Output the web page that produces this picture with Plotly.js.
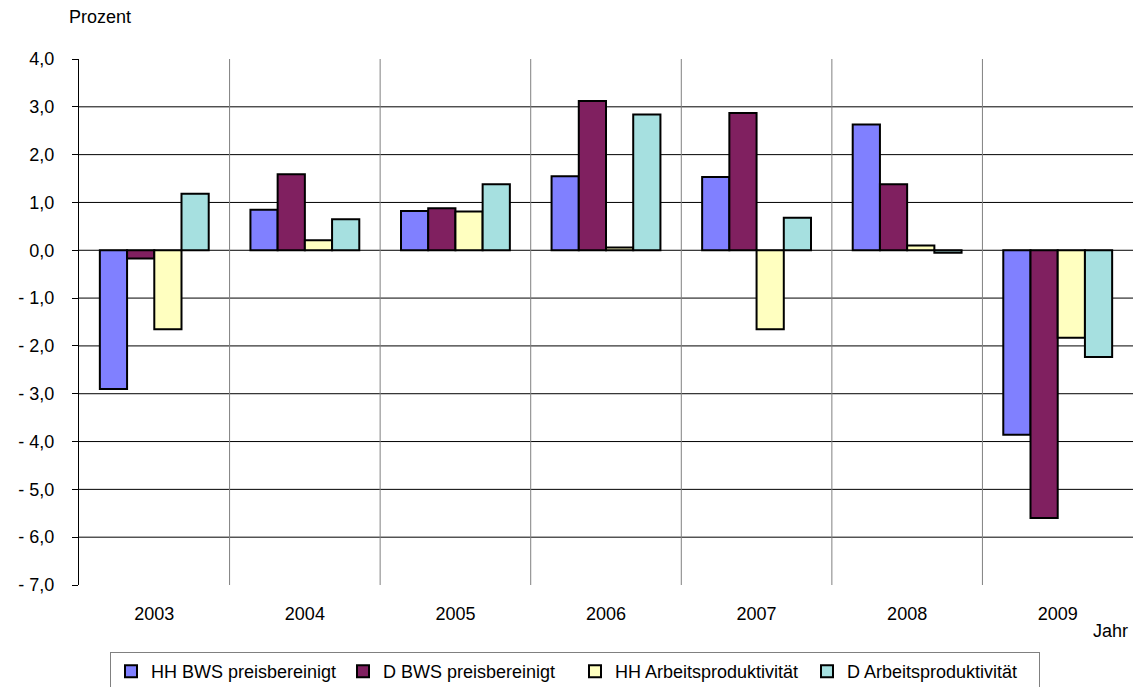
<!DOCTYPE html>
<html>
<head>
<meta charset="utf-8">
<script src="https://cdn.plot.ly/plotly-3.0.1.min.js"></script>
<style>
html,body{margin:0;padding:0;background:#fff;}
#chart{width:1133px;height:687px;}
</style>
</head>
<body>
<div id="chart"></div>
<script>
// Data
const years = ["2003", "2004", "2005", "2006", "2007", "2008", "2009"];
const hhBws = [-2.90, 0.85, 0.82, 1.55, 1.53, 2.63, -3.86];
const dBws = [-0.17, 1.59, 0.88, 3.12, 2.87, 1.38, -5.60];
const hhArb = [-1.65, 0.21, 0.81, 0.06, -1.65, 0.10, -1.83];
const dArb = [1.18, 0.65, 1.38, 2.84, 0.68, -0.05, -2.23];

const seriesNames = ["HH BWS preisbereinigt", "D BWS preisbereinigt", "HH Arbeitsproduktivität", "D Arbeitsproduktivität"];
const yTickVals = [4, 3, 2, 1, 0, -1, -2, -3, -4, -5, -6, -7];
const yTickText = ["4,0", "3,0", "2,0", "1,0", "0,0", "- 1,0", "- 2,0", "- 3,0", "- 4,0", "- 5,0", "- 6,0", "- 7,0"];
const yGridVals = [3, 2, 1, -1, -2, -3, -4, -5, -6];
const yRange = [-7, 4];

const colors = ["#8080FF", "#802060", "#FFFFC0", "#A6E0E0"];
const seriesValues = [hhBws, dBws, hhArb, dArb];

const FONT = "Liberation Sans, Arial, sans-serif";

const traces = seriesValues.map((vals, i) => ({
  type: "bar",
  x: years,
  y: vals,
  name: seriesNames[i],
  marker: {color: colors[i], line: {color: "#000000", width: 2}},
  hoverinfo: "skip"
}));

const shapes = [];
// horizontal gridlines
yGridVals.forEach(v => shapes.push({
  type: "line", layer: "below", xref: "paper", yref: "y",
  x0: 0, x1: 1, y0: v, y1: v,
  line: {color: "#000000", width: 1}
}));
// category separators
for (let i = 0; i < years.length - 1; i++) {
  shapes.push({
    type: "line", layer: "below", xref: "x", yref: "y",
    x0: i + 0.5, x1: i + 0.5, y0: yRange[0], y1: yRange[1],
    line: {color: "#808080", width: 1}
  });
}
// zero line (category axis)
shapes.push({
  type: "line", layer: "below", xref: "paper", yref: "y",
  x0: 0, x1: 1, y0: 0, y1: 0,
  line: {color: "#000000", width: 1}
});

const layout = {
  width: 1133, height: 687,
  margin: {l: 79, r: 0, t: 59, b: 102},
  paper_bgcolor: "#ffffff",
  plot_bgcolor: "#ffffff",
  font: {family: FONT, size: 18, color: "#000000"},
  barmode: "group",
  bargap: 0.277,
  bargroupgap: 0,
  showlegend: true,
  xaxis: {
    type: "category",
    range: [-0.5, 6.5],
    showgrid: false,
    zeroline: false,
    showline: false,
    ticks: "",
    ticklabelstandoff: 16,
    tickfont: {family: FONT, size: 18, color: "#000000"},
    automargin: false,
    fixedrange: true
  },
  yaxis: {
    range: yRange,
    tickvals: yTickVals,
    ticktext: yTickText,
    showgrid: false,
    zeroline: false,
    showline: true,
    linecolor: "#000000",
    linewidth: 1,
    ticks: "outside",
    ticklen: 6,
    tickcolor: "#000000",
    ticklabelstandoff: 14,
    tickfont: {family: FONT, size: 18, color: "#000000"},
    automargin: false,
    fixedrange: true
  },
  legend: {
    orientation: "h",
    xref: "container", yref: "container",
    x: 110 / 1133, xanchor: "left",
    y: 1 - 652 / 687, yanchor: "top",
    bordercolor: "#808080",
    borderwidth: 1,
    bgcolor: "#ffffff",
    font: {family: FONT, size: 18, color: "#000000"},
    traceorder: "normal",
    entrywidth: 187,
    entrywidthmode: "pixels"
  },
  shapes: shapes,
  annotations: [
    {text: "Prozent", xref: "paper", yref: "paper", x: -0.0114, y: 1.08,
     xanchor: "left", yanchor: "middle", showarrow: false,
     font: {family: FONT, size: 18, color: "#000000"}},
    {text: "Jahr", xref: "paper", yref: "paper", x: 0.960, y: -0.0875,
     xanchor: "left", yanchor: "middle", showarrow: false,
     font: {family: FONT, size: 18, color: "#000000"}}
  ]
};

Plotly.newPlot("chart", traces, layout, {displayModeBar: false, staticPlot: true});
</script>
</body>
</html>
